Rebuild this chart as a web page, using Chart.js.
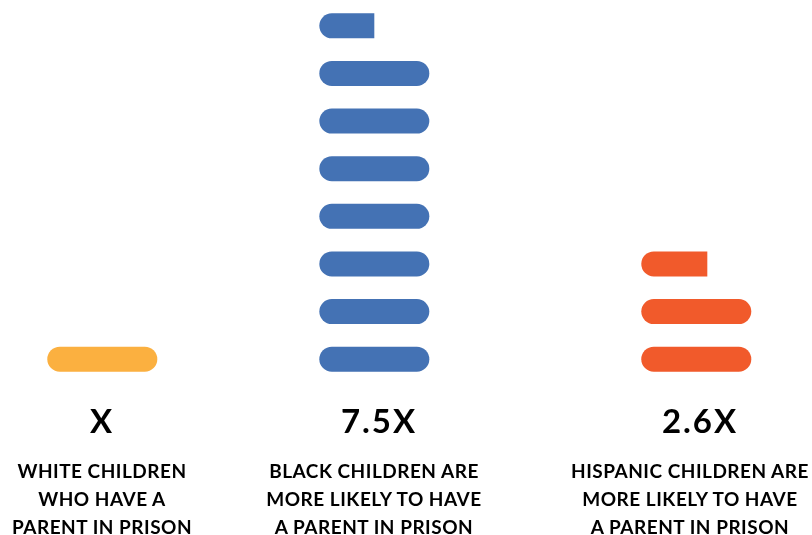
<!DOCTYPE html>
<html>
<head>
<meta charset="utf-8">
<script src="https://cdn.jsdelivr.net/npm/chart.js@4"></script>
<style>
  html, body { margin: 0; padding: 0; background: #ffffff; }
  #wrap { position: relative; width: 812px; height: 535px; overflow: hidden; }
  #chart { position: absolute; left: 0; top: 0; }
  .big, .desc {
    position: absolute; width: 300px; text-align: center; color: #000;
    font-family: Lato, "Noto Sans", sans-serif; font-weight: 700; white-space: nowrap;
  }
  .big { font-size: 33px; line-height: 33px; letter-spacing: 2px; }
  .desc { font-size: 19px; line-height: 28px; letter-spacing: 0.5px; }
</style>
</head>
<body>
<div id="wrap">
  <canvas id="chart" width="812" height="535"></canvas>
</div>
<script>
// ---- data ----
const groups = ['White', 'Black', 'Hispanic'];
const multipliers = [1, 7.5, 2.6];
const multiplierLabels = ['X', '7.5X', '2.6X'];
const descriptions = [
  ['WHITE CHILDREN', 'WHO HAVE A', 'PARENT IN PRISON'],
  ['BLACK CHILDREN ARE', 'MORE LIKELY TO HAVE', 'A PARENT IN PRISON'],
  ['HISPANIC CHILDREN ARE', 'MORE LIKELY TO HAVE', 'A PARENT IN PRISON']
];
const rowLabels = ['8', '7', '6', '5', '4', '3', '2', '1'];

// ---- layout / style (not data) ----
const colors = ['#FBB040', '#4472B4', '#F15A2B'];
const columnStarts = [0, 2.473, 5.4];     // in bar-units along x
const xMin = -0.43, xMax = 6.952;
const textCenters = [102, 379, 700];
const descCenters = [102, 374, 690];

const datasets = groups.map((g, gi) => ({
  label: g,
  backgroundColor: colors[gi],
  data: rowLabels.map((lab, i) => {
    const r = rowLabels.length - 1 - i;           // row index from bottom
    const frac = Math.min(1, Math.max(0, multipliers[gi] - r));
    return frac > 0 ? [columnStarts[gi], columnStarts[gi] + frac] : null;
  })
}));

new Chart(document.getElementById('chart'), {
  type: 'bar',
  data: { labels: rowLabels, datasets },
  options: {
    responsive: false,
    animation: false,
    indexAxis: 'y',
    layout: { padding: { top: 2, bottom: 152, left: 0, right: 0 } },
    plugins: { legend: { display: false }, tooltip: { enabled: false } },
    datasets: {
      bar: {
        grouped: false,
        barThickness: 25,
        borderSkipped: false,
        inflateAmount: 0,
        borderRadius: (ctx) => {
          const raw = ctx.raw;
          if (!raw) return 0;
          const frac = raw[1] - raw[0];
          return frac >= 0.999 ? 12.5 : { topLeft: 12.5, bottomLeft: 12.5, topRight: 0, bottomRight: 0 };
        }
      }
    },
    scales: {
      x: { type: 'linear', min: xMin, max: xMax, display: false },
      y: { type: 'category', display: false, offset: true }
    }
  }
});

// ---- text (real DOM text) ----
const wrap = document.getElementById('wrap');
groups.forEach((g, gi) => {
  const big = document.createElement('div');
  big.className = 'big';
  big.textContent = multiplierLabels[gi];
  big.style.left = (textCenters[gi] - 150) + 'px';
  big.style.top = '403.5px';
  wrap.appendChild(big);
  const d = document.createElement('div');
  d.className = 'desc';
  d.innerHTML = descriptions[gi].join('<br>');
  d.style.left = (descCenters[gi] - 150) + 'px';
  d.style.top = '456.5px';
  wrap.appendChild(d);
});
</script>
</body>
</html>
